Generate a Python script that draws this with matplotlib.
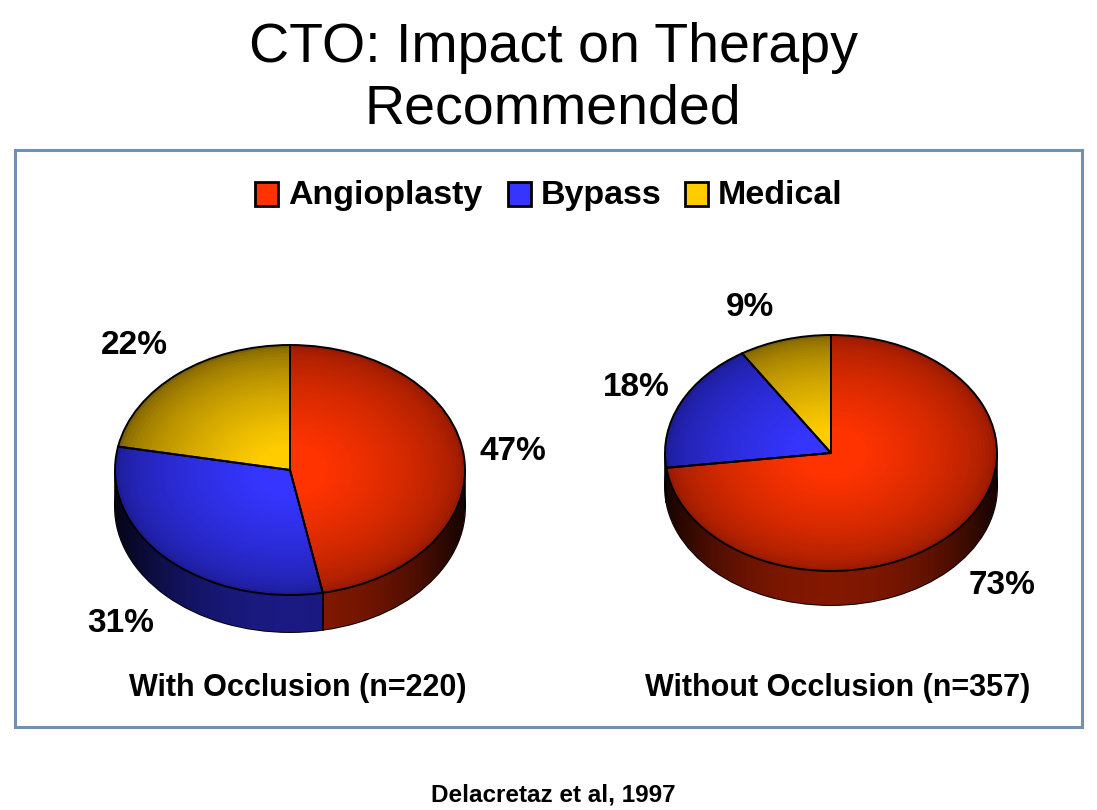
import numpy as np
import matplotlib
matplotlib.use('Agg')
import matplotlib.pyplot as plt
from matplotlib.patches import Rectangle, Polygon
from matplotlib.colors import to_rgb

plt.rcParams['font.family'] = ['Liberation Sans', 'DejaVu Sans']

# data
categories = ['Angioplasty', 'Bypass', 'Medical']
with_occlusion = [47, 31, 22]
without_occlusion = [73, 18, 9]
captions = ['With Occlusion (n=220)', 'Without Occlusion (n=357)']
title_lines = ['CTO: Impact on Therapy', 'Recommended']
source = 'Delacretaz et al, 1997'

bright = ['#FF3300', '#3535FF', '#FFCC00']
rim = ['#961A00', '#1C1C96', '#7E6200']
side = ['#821800', '#1A1A82', '#6A5400']

W, H = 1097, 810
fig = plt.figure(figsize=(W / 100, H / 100), dpi=100)


def fx(x):
    return x / W


def fy(y):
    return 1 - y / H


def mix(c1, c2, f):
    a = np.array(to_rgb(c1))
    b = np.array(to_rgb(c2))
    return tuple(a + (b - a) * f)


def pie3d(vals, cx, cy, rx, ry, depth):
    t = depth / ry
    p = 0.03
    ax = fig.add_axes([fx(cx - rx * (1 + p)), fy(cy + ry * (1 + t + p)),
                       2 * rx * (1 + p) / W, ry * (2 + t + 2 * p) / H])
    kw = dict(startangle=90, counterclock=False)
    # bottom outline, then the side walls as stacked layers
    ax.pie([1], colors=['none'], center=(0, -t),
           wedgeprops=dict(linewidth=1.4, edgecolor='black'), startangle=90)
    for off in np.linspace(t, 0, 30):
        ax.pie(vals, colors=side, center=(0, -off),
               wedgeprops=dict(linewidth=0), **kw)
    # darken the side wall towards its ends
    th = np.linspace(np.pi, 2 * np.pi, 200)
    outline = np.concatenate([np.c_[np.cos(th), np.sin(th)],
                              np.c_[np.cos(th[::-1]), np.sin(th[::-1]) - t]])
    clip = Polygon(outline, closed=True, transform=ax.transData,
                   facecolor='none', edgecolor='none')
    ax.add_patch(clip)
    gx = np.linspace(-1, 1, 256)
    shade = np.zeros((2, 256, 4))
    shade[..., 3] = 0.85 * np.abs(gx) ** 2.2
    im = ax.imshow(shade, extent=(-1, 1, -1 - t, 0), aspect='auto',
                   interpolation='bilinear', zorder=1.5)
    im.set_clip_path(clip)
    # vertical edges of the side wall
    ang = 90 - 360 * np.cumsum([0] + list(vals)) / sum(vals)
    xs = [-1, 1] + [np.cos(np.radians(a)) for a in ang if np.sin(np.radians(a)) < -0.05]
    for x in xs:
        y0 = -np.sqrt(max(0, 1 - x * x))
        ax.plot([x, x], [y0, y0 - t], color='black', lw=1.2, zorder=1.6)
    # top face with a radial shading
    n = 36
    for i in range(n):
        f = i / (n - 1)
        cols = [mix(r, b, f ** 0.6) for r, b in zip(rim, bright)]
        ax.pie(vals, colors=cols, radius=1 - 0.8 * f,
               wedgeprops=dict(linewidth=0, zorder=2), **kw)
    ax.pie(vals, colors=['none'] * len(vals),
           wedgeprops=dict(linewidth=1.4, edgecolor='black', zorder=3), **kw)
    ax.set_aspect('auto')
    ax.set_xlim(-1 - p, 1 + p)
    ax.set_ylim(-1 - t - p, 1 + p)
    ax.axis('off')
    return ax


pie3d(with_occlusion, 290, 470, 175, 125, 37)
pie3d(without_occlusion, 831, 453, 166, 118, 34)

# percentage labels
left_pos = [(513, 452), (121, 623), (134, 345)]
right_pos = [(1002, 585), (636, 388), (750, 308)]
for vals, pos in [(with_occlusion, left_pos), (without_occlusion, right_pos)]:
    for v, (x, y) in zip(vals, pos):
        fig.text(fx(x), fy(y), f'{v}%', ha='center', va='center',
                 fontsize=24, fontweight='bold')

# frame around the chart area
fig.patches.append(Rectangle((fx(15), fy(727)), (1082 - 15) / W, (727 - 150) / H,
                             transform=fig.transFigure, fill=False,
                             edgecolor='#7190B2', linewidth=2.2))

# legend
square_x = [255, 508, 685]
for name, col, sx in zip(categories, bright, square_x):
    fig.patches.append(Rectangle((fx(sx), fy(206)), 23 / W, 24 / H,
                                 transform=fig.transFigure, facecolor=col,
                                 edgecolor='black', linewidth=2))
    fig.text(fx(sx + 33), fy(204), name, ha='left', va='baseline',
             fontsize=24.5, fontweight='bold')

# captions under each pie
for cap, x in zip(captions, [298, 838]):
    fig.text(fx(x), fy(688), cap, ha='center', va='center',
             fontsize=22, fontweight='bold')

# title
fig.text(fx(553), fy(62), title_lines[0], ha='center', va='baseline', fontsize=40)
fig.text(fx(553), fy(124), title_lines[1], ha='center', va='baseline', fontsize=40)

fig.text(fx(553), fy(795), source, ha='center', va='center',
         fontsize=17.5, fontweight='bold')

fig.savefig('out.png', dpi=100)
